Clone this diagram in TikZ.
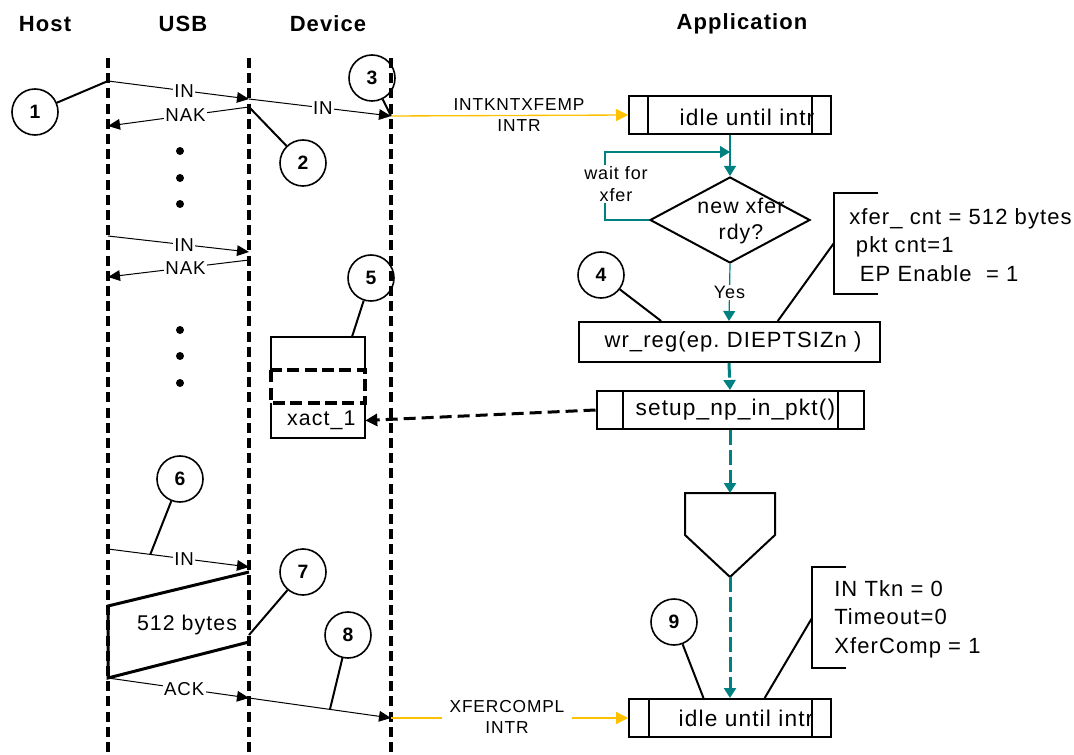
\documentclass[tikz,border=0pt]{standalone}
\usepackage{fontspec}
\setmainfont{Liberation Sans}[LetterSpace=5]
\usetikzlibrary{arrows.meta,shapes.geometric,calc}
\definecolor{tealc}{RGB}{0,128,128}
\definecolor{yelc}{RGB}{255,192,0}
\newcommand\fLbl{\fontsize{14}{16}\selectfont}
\newcommand\fSig{\fontsize{13}{16}\selectfont}
\newcommand\fHead{\fontsize{16.5}{19}\selectfont\bfseries}
\newcommand\fNum{\fontsize{14.5}{17}\selectfont\bfseries}
\newcommand\fBox{\fontsize{17}{20}\selectfont}
\newcommand\fNote{\fontsize{16.5}{21.3}\selectfont}
\begin{document}
\begin{tikzpicture}[x=0.75pt,y=-0.75pt,
  life/.style={line width=2.4pt,dash pattern=on 7.5pt off 3.9pt},
  msg/.style={line width=0.75pt,-{Triangle[length=9pt,width=8pt]}},
  lbl/.style={fill=white,inner sep=1pt,font=\fLbl},
  num/.style={circle,draw,line width=1.2pt,minimum size=34.5pt,inner sep=0pt,font=\fNum},
  lead/.style={line width=1.5pt},
  head/.style={font=\fHead,inner sep=0pt},
  dotc/.style={circle,fill,minimum size=6pt,inner sep=0pt},
  proc/.style={draw,line width=1.5pt,inner sep=0pt,minimum height=28.5pt,font=\fBox},
  tflow/.style={tealc,line width=0.9pt,-{Triangle[length=7.5pt,width=9pt]}},
  tdash/.style={tealc,line width=2.25pt,dash pattern=on 11pt off 4pt,-{Triangle[length=7.5pt,width=9pt]}},
  dblk/.style={line width=2.25pt,dash pattern=on 9pt off 4.5pt,-{Triangle[length=9pt,width=9pt]}},
  yflow/.style={yelc,line width=1pt,-{Triangle[length=9pt,width=9pt]}},
  brk/.style={line width=1.5pt},
  boxtxt/.style={font=\fBox,inner sep=0pt},
  note/.style={font=\fNote,align=left,anchor=west,inner sep=0pt},
  thin box/.style={line width=1.2pt},
  qdash/.style={line width=3pt,dash pattern=on 9pt off 4pt},
]
\useasboundingbox (0,0) rectangle (1074,755);

% headings
\node[head] (hHost) at (45,24) {Host};
\node[head] (hUSB) at (183,24) {USB};
\node[head] (hDev) at (328,24) {Device};
\node[head] (hApp) at (742,24) {Application};

% lifelines
\coordinate (Ht) at (108,58); \coordinate (Hb) at (108,755);
\coordinate (Ut) at (249,58); \coordinate (Ub) at (249,755);
\coordinate (Dt) at (391,58); \coordinate (Db) at (391,755);
\draw[life] (Ht) -- (Hb);
\draw[life] (Ut) -- (Ub);
\draw[life] (Dt) -- (Db);

% message points
\coordinate (h1) at (108,81);  \coordinate (u1) at (249,99);  \coordinate (d1) at (391,116);
\coordinate (u2) at (249,107); \coordinate (h2) at (108,126);
\coordinate (h3) at (108,236); \coordinate (u3) at (249,252);
\coordinate (u4) at (249,260); \coordinate (h4) at (108,277);
\coordinate (h5) at (108,549); \coordinate (u5) at (249,567);
\coordinate (h6) at (108,606); \coordinate (u6) at (249,572);
\coordinate (h7) at (108,678); \coordinate (u7) at (249,642);
\coordinate (u8) at (249,635);
\coordinate (u9) at (249,698); \coordinate (d2) at (391,718);

% first poll
\draw[msg] (h1) -- node[lbl,pos=0.54] {IN} (u1);
\draw[msg] (u1) -- node[lbl,pos=0.52] {IN} (d1);
\draw[msg] (u2) -- node[lbl,pos=0.45] {NAK} (h2);
\node[num] (c1) at (35,112) {1};
\draw[lead] (c1) -- (h1);
\node[num] (c2) at (303,163) {2};
\draw[lead] (c2) -- (u2);
\node[num] (c3) at (372,78) {3};
\draw[lead] (c3) -- (d1);

\node[dotc] (p1) at (180,151) {};
\node[dotc] (p2) at (180,178) {};
\node[dotc] (p3) at (180,204) {};

\draw[msg] (h3) -- node[lbl,pos=0.54] {IN} (u3);
\draw[msg] (u4) -- node[lbl,pos=0.45] {NAK} (h4);

\node[dotc] (p4) at (180,330) {};
\node[dotc] (p5) at (180,356) {};
\node[dotc] (p6) at (180,383) {};

% queue
\node[minimum width=70.5pt,minimum height=24.75pt,inner sep=0pt] (qtop) at (318,353.5) {};
\node[minimum width=70.5pt,minimum height=26.25pt,inner sep=0pt,font=\fontsize{16}{18}\selectfont] (xact) at (318,420.5) {\hspace*{5pt}xact\_1};
\draw[thin box] (qtop.south west) |- (qtop.north east) -- (qtop.south east);
\draw[thin box] (xact.north west) |- (xact.south east) -- (xact.north east);
\draw[qdash] (qtop.south west) rectangle (xact.north east);
\node[num] (c5) at (371,278) {5};
\draw[lead] (c5) -- ($(qtop.north west)!0.86!(qtop.north east)$);

% data phase
\draw[msg] (h5) -- node[lbl,pos=0.54] {IN} (u5);
\node[num] (c6) at (180,479) {6};
\draw[lead] (c6) -- ($(h5)!0.3!(u5)$);
\draw[line width=2.25pt] (u6) -- (h6) -- (h7) -- (u7);
\node[font=\fontsize{16}{18}\selectfont,inner sep=0pt] (b512) at (187,625) {512 bytes};
\node[num] (c7) at (303,572) {7};
\draw[lead] (c7) -- (u8);
\draw[msg] (h7) -- node[lbl,pos=0.54] {ACK} (u9);
\draw[msg] (u9) -- (d2);
\node[num] (c8) at (348,635) {8};
\draw[lead] (c8) -- ($(u9)!0.57!(d2)$);

% application: top
\node[proc,minimum width=151.5pt] (idle1) at (730,115) {};
\draw[brk] ([xshift=15pt]idle1.north west) -- ([xshift=15pt]idle1.south west);
\draw[brk] ([xshift=-15pt]idle1.north east) -- ([xshift=-15pt]idle1.south east);
\node[boxtxt] (t1) at (747,117) {idle until intr};
\draw[yflow] (d1) -- (idle1.west);
\node[font=\fSig,align=center,inner sep=0pt] (sig1) at (519,115) {INTKNTXFEMP\\INTR};

% decision
\node[diamond,draw,line width=1.5pt,minimum width=120pt,minimum height=64.5pt,inner sep=0pt] (dia) at (730,220) {};
\node[font=\fontsize{16}{20}\selectfont,align=center,inner sep=0pt] (dtxt) at (741,221) {new xfer\\rdy?};
\draw[tflow] (idle1.south) -- (dia.north);
\coordinate (lp1) at (605,220);
\coordinate (lp2) at (605,152);
\coordinate (lp3) at (730,152);
\draw[tflow] (dia.west) -- (lp1) -- (lp2) -- (lp3);
\node[fill=white,inner sep=1pt,font=\fontsize{13.5}{16.5}\selectfont,align=center] (wait) at (616,184) {wait for\\xfer};

% wr_reg
\node[proc,minimum width=225.75pt,minimum height=30pt,font=\fontsize{16.5}{20}\selectfont] (wr) at (729,342) {\hspace*{6pt}wr\_reg(ep.\ DIEPTSIZn )};
\draw[tflow] (dia.south) -- node[fill=white,text=black,inner sep=1pt,font=\fontsize{13.5}{16}\selectfont] {Yes} (wr.north);
\node[num] (c4) at (601,275) {4};
\draw[lead] (c4) -- ($(wr.north west)!0.276!(wr.north east)$);
\coordinate (b1m) at (834,243);
\draw[brk] (878,193) -- (834,193) -- (834,294) -- (878,294);
\draw[lead] (b1m) -- ($(wr.north west)!0.661!(wr.north east)$);
\node[note] (n1) at (849,245) {xfer\_ cnt = 512 bytes\\\hspace*{5pt}pkt cnt=1\\\hspace*{8pt}EP Enable\ \ = 1};

% setup
\node[proc,minimum width=200.25pt] (setup) at (730,410) {\hspace*{8pt}setup\_np\_in\_pkt()};
\draw[brk] ([xshift=20.25pt]setup.north west) -- ([xshift=20.25pt]setup.south west);
\draw[brk] ([xshift=-20.25pt]setup.north east) -- ([xshift=-20.25pt]setup.south east);
\draw[tdash] (wr.south) -- (setup.north);
\draw[dblk] (setup.west) -- (xact.east);

% off-page connector
\coordinate (offtop) at (730,493);
\coordinate (offbot) at (730,577);
\draw[brk] (685,493) -- (775,493) -- (775,535) -- (offbot) -- (685,535) -- cycle;
\draw[tdash] (setup.south) -- (offtop);

% bottom idle
\node[proc,minimum width=151.5pt] (idle2) at (730,718) {};
\draw[brk] ([xshift=15.75pt]idle2.north west) -- ([xshift=15.75pt]idle2.south west);
\draw[brk] ([xshift=-15pt]idle2.north east) -- ([xshift=-15pt]idle2.south east);
\node[boxtxt] (t2) at (746,718) {idle until intr};
\draw[tdash] (offbot) -- (idle2.north);
\draw[yflow] (d2) -- (idle2.west);
\node[font=\fSig,align=center,fill=white,inner xsep=6pt,inner ysep=1pt] (sig2) at (507,717) {XFERCOMPL\\INTR};

\node[num] (c9) at (674,622) {9};
\draw[lead] (c9) -- ($(idle2.north west)!0.37!(idle2.north east)$);
\coordinate (b2m) at (812,618);
\draw[brk] (846,567) -- (812,567) -- (812,668) -- (846,668);
\draw[lead] (b2m) -- ($(idle2.north west)!0.67!(idle2.north east)$);
\node[note] (n2) at (834,619) {IN Tkn = 0\\Timeout=0\\XferComp = 1};
\end{tikzpicture}
\end{document}
